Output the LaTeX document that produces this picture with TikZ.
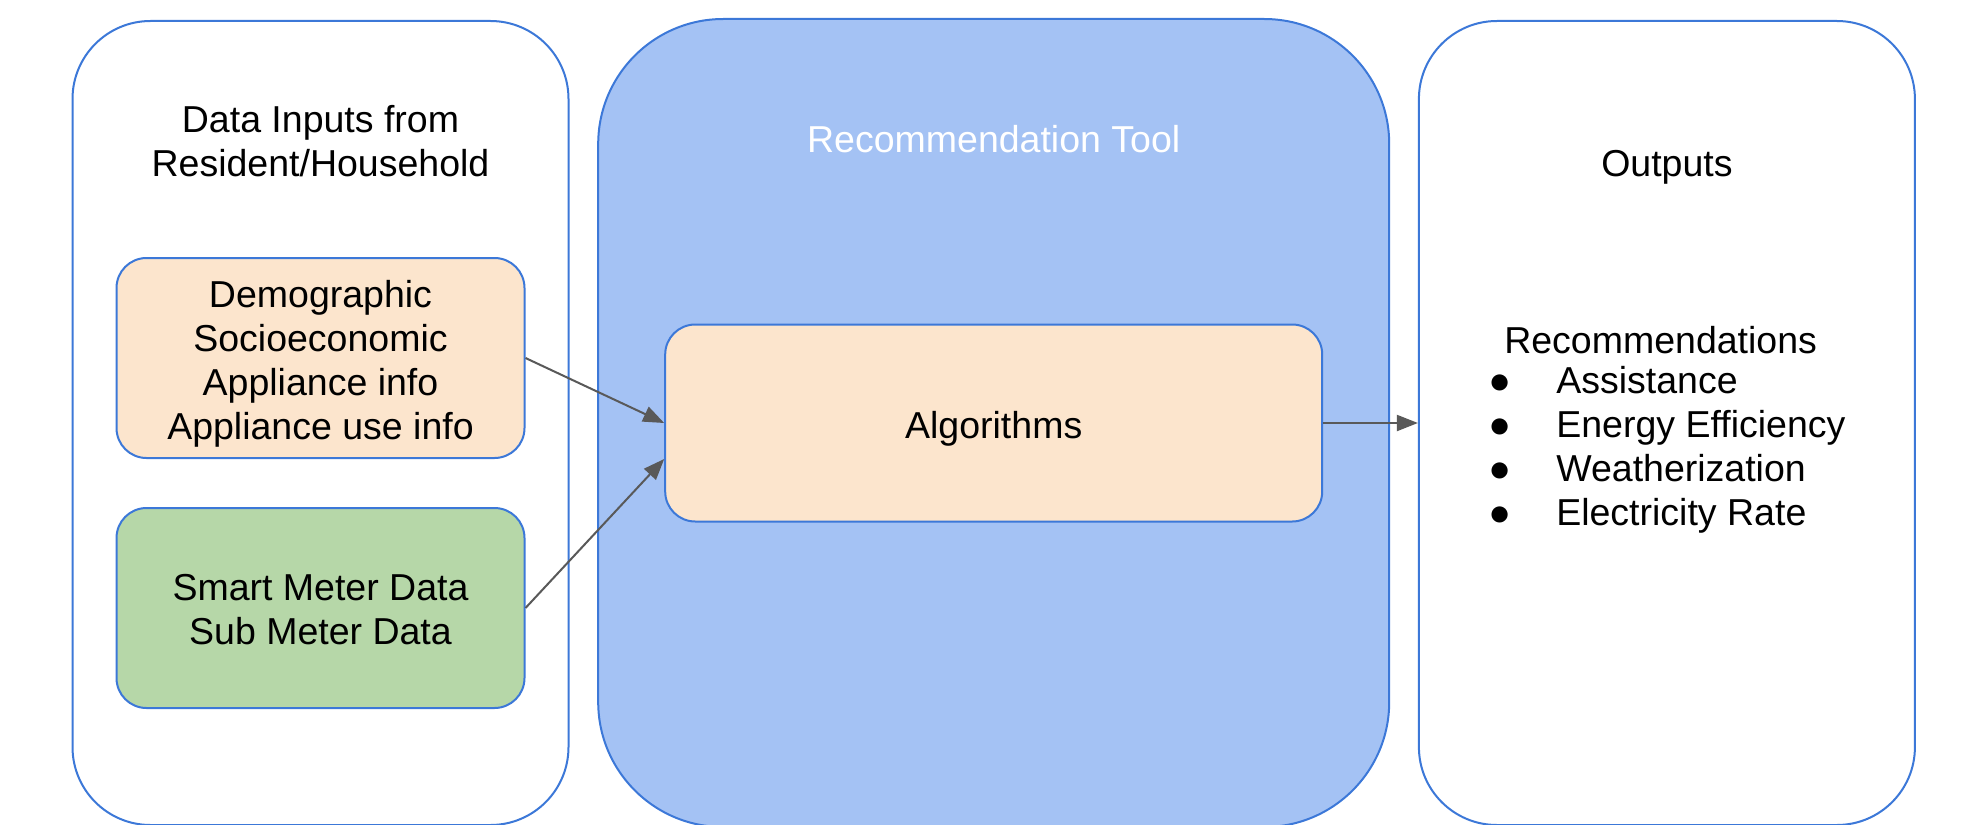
\documentclass[tikz,border=0pt]{standalone}
\usepackage{fontspec}
\setmainfont{Liberation Sans}
\usetikzlibrary{arrows.meta, positioning}
\definecolor{lineBlue}{HTML}{3C78D8}
\definecolor{toolBlue}{HTML}{A4C2F4}
\definecolor{inOrange}{HTML}{FCE5CD}
\definecolor{inGreen}{HTML}{B6D7A8}
\definecolor{arrGray}{HTML}{595959}
\tikzstyle{colNode} = [rectangle, minimum width=248pt, minimum height=402pt, rounded corners=39pt, draw=lineBlue, line width=1pt, fill=white]
\tikzstyle{colNodeB} = [colNode, minimum width=395.5pt, minimum height=404pt, rounded corners=62.5pt, fill=toolBlue]
\tikzstyle{recNode} = [rectangle, minimum width=204pt, minimum height=100pt, text centered, rounded corners=15pt, draw=lineBlue, line width=1pt, align=center, inner sep=0pt]
\tikzstyle{recNodeO} = [recNode, fill=inOrange]
\tikzstyle{recNodeG} = [recNode, fill=inGreen]
\tikzstyle{tNode} = [align=center, inner sep=0pt]
\tikzstyle{arrow} = [line width=1pt, draw=arrGray, -{Triangle[length=10.5pt,width=8pt]}]
\newcommand{\recBullet}{\makebox[34pt][l]{●}}
\newcommand{\topStrut}[1]{\rule{0pt}{#1}}

\begin{document}
\begin{tikzpicture}[x=0.5pt, y=-0.5pt, node distance=336.6pt, font=\fontsize{18.75pt}{22pt}\selectfont]
        \useasboundingbox (0,0) rectangle (1974,824);

        \node (in) [colNode] at (320.5,423) {};
        \node (tool) [colNodeB, right of=in] {};
        \node (out) [colNode, right of=tool] {};

        \node (inT) [tNode] at ([yshift=-60.5pt]in.north) {Data Inputs from\\Resident/Household};
        \node (toolT) [tNode, text=white] at ([yshift=-60.5pt]tool.north) {Recommendation Tool};
        \node (outT) [tNode] at ([yshift=-73.5pt]out.north) {Outputs};

        \node (demo) [recNodeO] at ([yshift=32.5pt]in.center) {\topStrut{19.3pt}Demographic\\Socioeconomic\\Appliance info\\Appliance use info};
        \node (meter) [recNodeG] at ([yshift=-92.5pt]in.center) {\topStrut{14.3pt}Smart Meter Data\\Sub Meter Data};
        \node (algo) [recNodeO, minimum width=328.5pt, minimum height=98.5pt] at (tool.center) {\topStrut{19.3pt}Algorithms};

        \node (rec) [tNode, align=left, anchor=west] at ([xshift=35pt, yshift=-3.5pt]out.west) {\hspace*{8pt}Recommendations\\[-2pt]\recBullet Assistance\\\recBullet Energy Efficiency\\\recBullet Weatherization\\\recBullet Electricity Rate};

        \draw [arrow] (demo.east) -- (algo.west);
        \draw [arrow] (meter.east) -- ([yshift=-18pt]algo.west);
        \draw [arrow] (algo.east) -- (out.west);
\end{tikzpicture}
\end{document}
